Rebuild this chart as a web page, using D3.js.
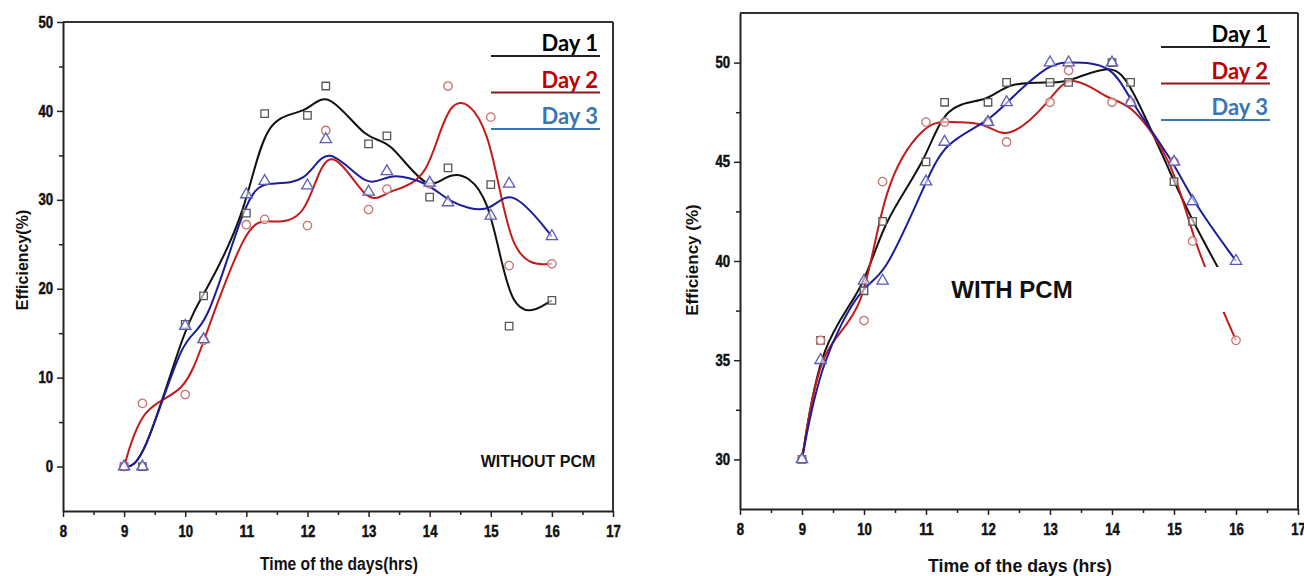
<!DOCTYPE html>
<html lang="en">
<head>
<meta charset="UTF-8">
<title>Efficiency with and without PCM</title>
<script src="https://cdn.jsdelivr.net/npm/d3@7"></script>
<style>
  body { margin: 0; background: #fff; }
  .lbl { font-family: "Liberation Sans", Arial, sans-serif; font-weight: bold; fill: #111; }
  .leg { font-family: Lato, "Open Sans", sans-serif; font-weight: bold; font-size: 22px; }
</style>
</head>
<body>
<svg id="chart" width="1304" height="576"></svg>

<script>
// ---- data ----
var hours = [9, 9.3, 10, 10.3, 11, 11.3, 12, 12.3, 13, 13.3, 14, 14.3, 15, 15.3, 16];

// without PCM
var noPcmDay1 = [0, 0, 16, 19.2, 28.5, 39.7, 39.5, 42.8, 36.3, 37.2, 30.3, 33.6, 31.7, 15.8, 18.7];
var noPcmDay2 = [0, 7.1, 8.1, 14.2, 27.2, 27.8, 27.1, 37.8, 28.9, 31.2, 31.8, 42.8, 39.3, 22.6, 22.8];
var noPcmDay3 = [0, 0, 15.8, 14.3, 30.6, 32.1, 31.6, 36.8, 30.9, 33.2, 31.9, 29.7, 28.2, 31.8, 25.9];

// with PCM
var pcmDay1 = [30, 36, 38.5, 42, 45, 48, 48, 49, 49, 49, 50, 49, 44, 42, 38];
var pcmDay2 = [30, 36, 37, 44, 47, 47, 47, 46, 48, 49.6, 48, 48, 45, 41, 36];
var pcmDay3 = [30, 35, 39, 39, 44, 46, 47, 48, 50, 50, 50, 48, 45, 43, 40];

var seriesNames = ["Day 1", "Day 2", "Day 3"];
var xTicks = [8, 9, 10, 11, 12, 13, 14, 15, 16, 17];
var xMinor = [8.5, 9.5, 10.5, 11.5, 12.5, 13.5, 14.5, 15.5, 16.5];
var noPcmYTicks = [0, 10, 20, 30, 40, 50];
var noPcmYMinor = [5, 15, 25, 35, 45];
var pcmYTicks = [30, 35, 40, 45, 50];
var pcmYMinor = [32.5, 37.5, 42.5, 47.5];

// styles per series
var lineColor = ["#111111", "#c41a1a", "#1c1c9c"];
var markColor = ["#555555", "#c87272", "#5a5ab8"];
var legColor = ["#000000", "#c00000", "#3a76b2"];
var legLine = ["#222222", "#8e1c1c", "#3a76b2"];
var markType = [d3.symbolSquare, d3.symbolCircle, d3.symbolTriangle];
var markSize = [56, 56, 56];

var svg = d3.select("#chart");

// squeeze text into a narrow heavy look (no condensed font available)
function narrow(sel, perChar) {
    sel.style("font-family", '"Liberation Sans", Arial, sans-serif')
        .style("font-weight", "bold").style("font-size", "16px")
        .attr("fill", "#111").attr("stroke", "#111").attr("stroke-width", 0.5)
        .attr("textLength", function () { return this.textContent.length * perChar; })
        .attr("lengthAdjust", "spacingAndGlyphs");
}

function drawPanel(p) {
    var x = d3.scaleLinear().domain([8, 17]).range([p.left, p.right]);
    var y = d3.scaleLinear().domain(p.yDomain).range([p.bottom, p.top]);
    var g = svg.append("g");

    // frame (top + right)
    g.append("line").attr("x1", p.left).attr("x2", p.right).attr("y1", p.top).attr("y2", p.top)
        .attr("stroke", "#333").attr("stroke-width", 2);
    g.append("line").attr("x1", p.right).attr("x2", p.right).attr("y1", p.top).attr("y2", p.bottom)
        .attr("stroke", "#333").attr("stroke-width", 2);

    // axes
    var xa = g.append("g").attr("transform", "translate(0," + p.bottom + ")")
        .call(d3.axisBottom(x).tickValues(xTicks).tickSize(6).tickSizeOuter(0).tickPadding(6));
    g.append("g").attr("transform", "translate(0," + p.bottom + ")")
        .call(d3.axisBottom(x).tickValues(xMinor).tickSize(4).tickFormat(""))
        .select(".domain").remove();
    var ya = g.append("g").attr("transform", "translate(" + p.left + ",0)")
        .call(d3.axisLeft(y).tickValues(p.yTicks).tickSize(6).tickSizeOuter(0).tickPadding(4));
    g.append("g").attr("transform", "translate(" + p.left + ",0)")
        .call(d3.axisLeft(y).tickValues(p.yMinor).tickSize(4).tickFormat(""))
        .select(".domain").remove();
    g.selectAll(".domain").attr("stroke", "#222").attr("stroke-width", 2);
    g.selectAll(".tick line").attr("stroke", "#222").attr("stroke-width", 1.5);
    xa.selectAll(".tick text").call(narrow, 7.3).attr("dy", "0.85em");
    ya.selectAll(".tick text").call(narrow, 7.3);

    // curves
    var line = d3.line().curve(d3.curveBasis)
        .x(function (d) { return x(d[0]); })
        .y(function (d) { return y(d[1]); });

    p.series.forEach(function (vals, i) {
        var pts = hours.map(function (h, k) { return [h, vals[k]]; });
        g.append("path").datum(pts).attr("d", line)
            .attr("fill", "none").attr("stroke", lineColor[i]).attr("stroke-width", 2);
    });

    // markers on top
    p.series.forEach(function (vals, i) {
        var pts = hours.map(function (h, k) { return [h, vals[k]]; });
        g.selectAll(null).data(pts).enter().append("path")
            .attr("d", d3.symbol().type(markType[i]).size(markSize[i]))
            .attr("transform", function (d) { return "translate(" + x(d[0]) + "," + y(d[1]) + ")"; })
            .attr("fill", "#fff").attr("fill-opacity", 0.6)
            .attr("stroke", markColor[i]).attr("stroke-width", 1.3);
    });

    if (p.mask) {
        g.append("rect").attr("x", p.mask[0]).attr("y", p.mask[1])
            .attr("width", p.mask[2]).attr("height", p.mask[3]).attr("fill", "#fff");
    }

    // legend
    seriesNames.forEach(function (name, i) {
        var base = p.legTop + i * 36.5;
        g.append("text").attr("class", "leg").attr("x", p.legRight).attr("y", base)
            .attr("text-anchor", "end").attr("fill", legColor[i]).text(name);
        g.append("line").attr("x1", p.legRight - 107).attr("x2", p.legRight + 2)
            .attr("y1", base + 5).attr("y2", base + 5)
            .attr("stroke", legLine[i]).attr("stroke-width", 1.8);
    });

    // labels
    g.append("text").attr("class", "lbl").attr("x", p.title[0]).attr("y", p.title[1])
        .attr("text-anchor", "middle").style("font-size", p.title[2] + "px").text(p.titleText);
    g.append("text").attr("class", "lbl")
        .attr("transform", "translate(" + p.yLab[0] + "," + p.yLab[1] + ") rotate(-90)")
        .attr("text-anchor", "middle").style("font-size", p.yLab[2] + "px").text(p.yLabel);
    g.append("text").attr("class", "lbl")
        .attr("x", p.xLab[0]).attr("y", p.xLab[1])
        .attr("text-anchor", "middle").style("font-size", p.xLab[2] + "px")
        .attr("textLength", p.xLab[3]).attr("lengthAdjust", "spacingAndGlyphs")
        .text(p.xLabel);
}

drawPanel({
    left: 63, right: 613, top: 22, bottom: 511,
    yDomain: [-5, 50], yTicks: noPcmYTicks, yMinor: noPcmYMinor,
    series: [noPcmDay1, noPcmDay2, noPcmDay3],
    legRight: 598, legTop: 51,
    titleText: "WITHOUT PCM", title: [538, 467, 16],
    yLabel: "Efficiency(%)", yLab: [28, 260, 16],
    xLabel: "Time of the days(hrs)", xLab: [339, 570, 18, 158]
});

drawPanel({
    left: 740, right: 1298, top: 13, bottom: 509,
    yDomain: [27.5, 52.5], yTicks: pcmYTicks, yMinor: pcmYMinor,
    series: [pcmDay1, pcmDay2, pcmDay3],
    legRight: 1268, legTop: 42,
    titleText: "WITH PCM", title: [1012, 298, 24],
    yLabel: "Efficiency (%)", yLab: [698, 260, 17],
    xLabel: "Time of the days (hrs)", xLab: [1020, 572, 18, 184],
    mask: [1183, 267, 69, 45]
});
</script>
</body>
</html>
